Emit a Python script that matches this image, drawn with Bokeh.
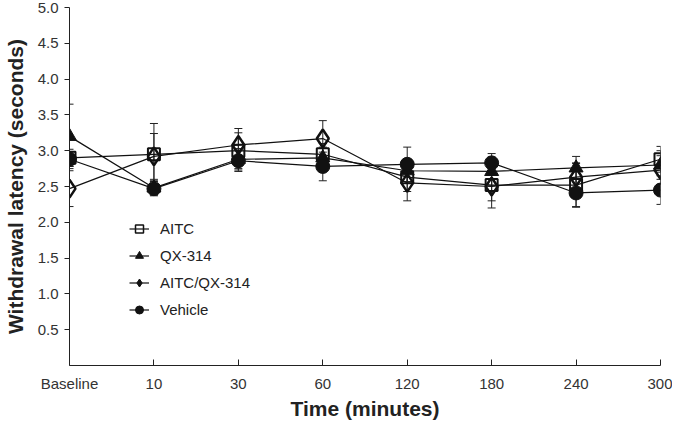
import numpy as np
from bokeh.plotting import figure
from bokeh.models import (ColumnDataSource, Whisker, TeeHead, FixedTicker, Range1d,
                          Legend, LegendItem, NumeralTickFormatter)
from bokeh.embed import file_html
from bokeh.resources import INLINE

# ---- data ----
categories = ["Baseline", "10", "30", "60", "120", "180", "240", "300"]
aitc = [2.90, 2.95, 3.00, 2.95, 2.63, 2.52, 2.52, 2.88]
aitc_err = [0.12, 0.43, 0.25, 0.15, 0.20, 0.32, 0.30, 0.18]
qx314 = [3.20, 2.48, 2.88, 2.90, 2.72, 2.71, 2.76, 2.80]
qx314_err = [0.45, 0.10, 0.15, 0.15, 0.15, 0.20, 0.16, 0.20]
aitc_qx = [2.47, 2.92, 3.08, 3.17, 2.55, 2.50, 2.63, 2.73]
aitc_qx_err = [0.25, 0.32, 0.23, 0.25, 0.25, 0.20, 0.20, 0.20]
vehicle = [2.88, 2.47, 2.86, 2.78, 2.81, 2.83, 2.41, 2.45]
vehicle_err = [0.10, 0.10, 0.15, 0.20, 0.24, 0.13, 0.20, 0.20]
y_ticks = [0.5, 1.0, 1.5, 2.0, 2.5, 3.0, 3.5, 4.0, 4.5, 5.0]

FONT = "Liberation Sans"
x_pos = list(range(len(categories)))

p = figure(width=672, height=422, output_backend="svg", toolbar_location=None,
           x_range=Range1d(0, len(categories) - 1), y_range=Range1d(0, 5),
           min_border_top=7, min_border_right=12, min_border_left=5, min_border_bottom=0)
p.outline_line_color = None
p.xgrid.visible = False
p.ygrid.visible = False
p.background_fill_color = "white"

xa = p.xaxis[0]
xa.ticker = FixedTicker(ticks=x_pos)
xa.major_label_overrides = {i: c for i, c in zip(x_pos, categories)}
xa.major_tick_in = 6
xa.major_tick_out = 0
xa.minor_tick_line_color = None
xa.major_label_standoff = 9
xa.axis_label = "Time (minutes)"
xa.axis_label_standoff = 2

ya = p.yaxis[0]
ya.ticker = FixedTicker(ticks=y_ticks)
ya.formatter = NumeralTickFormatter(format="0.0")
ya.major_tick_in = 0
ya.major_tick_out = 5
ya.minor_tick_line_color = None
ya.major_label_standoff = 6
ya.axis_label = "Withdrawal latency (seconds)"
ya.axis_label_standoff = 8

for ax in (xa, ya):
    ax.axis_line_color = "#222222"
    ax.major_tick_line_color = "#222222"
    ax.major_label_text_font = FONT
    ax.major_label_text_font_size = "15px"
    ax.major_label_text_color = "#333333"
    ax.axis_label_text_font = FONT
    ax.axis_label_text_font_size = "21px"
    ax.axis_label_text_font_style = "bold"
    ax.axis_label_text_color = "#222222"

series = [
    ("AITC", aitc, aitc_err,
     dict(marker="square", size=12, fill_color=None, line_color="#111111", line_width=2),
     dict(marker="square", size=9, fill_color=None, line_color="#111111", line_width=1.5)),
    ("QX-314", qx314, qx314_err,
     dict(marker="triangle", size=14, fill_color="#111111", line_color="#111111", line_width=1),
     dict(marker="triangle", size=11, fill_color="#111111", line_color="#111111", line_width=1)),
    ("AITC/QX-314", aitc_qx, aitc_qx_err,
     dict(marker="diamond", size=18, fill_color=None, line_color="#111111", line_width=2.5),
     dict(marker="diamond", size=10, fill_color="#111111", line_color="#111111", line_width=1)),
    ("Vehicle", vehicle, vehicle_err,
     dict(marker="circle", size=14, fill_color="#111111", line_color="#111111", line_width=1),
     dict(marker="circle", size=11, fill_color="#111111", line_color="#111111", line_width=1)),
]

items = []
sources = []
for name, vals, errs, mstyle, lstyle in series:
    v = np.array(vals)
    e = np.array(errs)
    src = ColumnDataSource(dict(x=x_pos, y=v, upper=v + e, lower=v - e))
    sources.append((src, mstyle))
    lr = p.line("x", "y", source=src, line_color="#111111", line_width=1.2)
    p.add_layout(Whisker(source=src, base="x", upper="upper", lower="lower",
                         line_color="#222222", line_width=1,
                         upper_head=TeeHead(size=8, line_color="#222222", line_width=1),
                         lower_head=TeeHead(size=8, line_color="#222222", line_width=1)))
    dummy = p.scatter(x=np.array([np.nan]), y=np.array([np.nan]), **lstyle)
    items.append(LegendItem(label=name, renderers=[lr, dummy]))

for src, mstyle in sources:
    p.scatter("x", "y", source=src, **mstyle)

legend = Legend(items=items, location=(60, 42), border_line_color=None,
                background_fill_alpha=0, label_text_font=FONT,
                label_text_font_size="15px", label_text_color="#222222",
                glyph_width=20, glyph_height=27, label_height=27,
                label_standoff=11, spacing=0, padding=0, margin=0)
p.add_layout(legend)

open("out.html", "w").write(file_html(p, INLINE))
